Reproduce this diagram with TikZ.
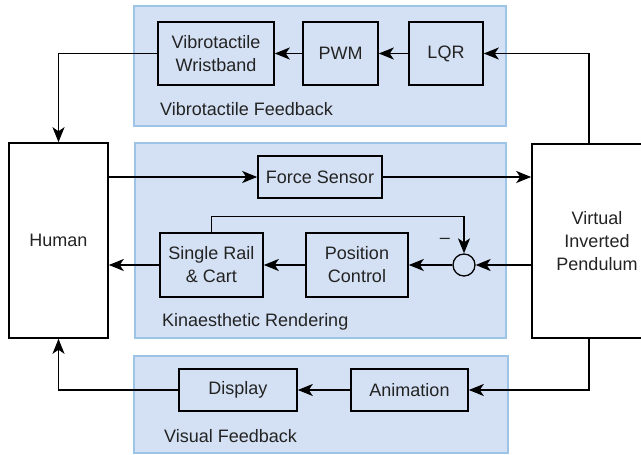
\documentclass[tikz,border=0pt]{standalone}
\usepackage{fontspec}
\setmainfont{Liberation Sans}
\usetikzlibrary{arrows.meta}
\definecolor{panelfill}{RGB}{212,225,244}
\definecolor{paneldraw}{RGB}{157,195,230}
\definecolor{txt}{RGB}{35,35,35}
\begin{document}
\begin{tikzpicture}[x=1pt,y=-1pt,
  font=\fontsize{18}{23}\selectfont,
  panel/.style={fill=panelfill,draw=paneldraw,line width=1.5pt},
  blk/.style={draw=black,line width=1.6pt,fill=panelfill,align=center,inner sep=0pt,text=txt},
  bigblk/.style={blk,fill=white},
  grplabel/.style={anchor=west,inner sep=0pt,text=txt},
  arr/.style={draw=black,line width=1.2pt,-{Stealth[length=15pt,width=12pt,inset=4pt]}},
  con/.style={draw=black,line width=1.2pt}
]
\useasboundingbox (0,0) rectangle (641,455);
\clip (0,0) rectangle (641,455);
\fill[white] (0,0) rectangle (641,455);

% panels
\draw[panel] (134,6) rectangle (506,126);
\draw[panel] (135,143) rectangle (506,338);
\draw[panel] (134,356) rectangle (508,453);

% group labels
\node[grplabel] (lbl1) at (160,109) {Vibrotactile Feedback};
\node[grplabel] (lbl2) at (162,322) {Kinaesthetic Rendering};
\node[grplabel] (lbl3) at (164,436) {Visual Feedback};

% big blocks
\node[bigblk,minimum width=99pt,minimum height=195pt] (human) at (58.5,240.5) {Human};
\node[bigblk,minimum width=130pt,minimum height=194pt] (pend) at (597,241) {Virtual\\Inverted\\Pendulum};

% top blocks
\node[blk,minimum width=116pt,minimum height=63pt] (wrist) at (216,53.5) {Vibrotactile\\Wristband};
\node[blk,minimum width=75pt,minimum height=63pt] (pwm) at (340.5,53.5) {PWM};
\node[blk,minimum width=74pt,minimum height=63pt] (lqr) at (446,53.5) {LQR};

% middle blocks
\node[blk,minimum width=124pt,minimum height=42pt] (fs) at (320,177) {Force Sensor};
\node[blk,minimum width=103pt,minimum height=64pt] (rail) at (211.5,265) {Single Rail\\\& Cart};
\node[blk,minimum width=102pt,minimum height=64pt] (pc) at (357,265) {Position\\Control};
\node[circle,draw=black,line width=1.3pt,fill=panelfill,minimum size=22pt,inner sep=0pt] (sum) at (464,265) {};
\node[text=txt,inner sep=0pt] (minus) at (445,241) {–};

% bottom blocks
\node[blk,minimum width=118pt,minimum height=42pt] (disp) at (238,390) {Display};
\node[blk,minimum width=117pt,minimum height=42pt] (anim) at (409.5,390) {Animation};

\coordinate (rx) at (589,0);

% connectors top
\draw[arr] (rx |- pend.north) |- (lqr.east);
\draw[arr] (lqr.west) -- (pwm.east);
\draw[arr] (pwm.west) -- (wrist.east);
\draw[arr] (wrist.west) -| (human.north);

% connectors middle
\draw[arr] (human.east |- fs) -- (fs.west);
\draw[arr] (fs.east) -- (pend.west |- fs);
\draw[arr] (pend.west |- sum) -- (sum.east);
\draw[arr] (sum.west) -- (pc.east);
\draw[arr] (pc.west) -- (rail.east);
\draw[arr] (rail.west) -- (human.east |- rail);
\draw[arr] (rail.north) -- ++(0,-16) -| (sum.north);

% connectors bottom
\draw[arr] (rx |- pend.south) |- (anim.east);
\draw[arr] (anim.west) -- (disp.east);
\draw[arr] (disp.west) -| (human.south);
\end{tikzpicture}
\end{document}
